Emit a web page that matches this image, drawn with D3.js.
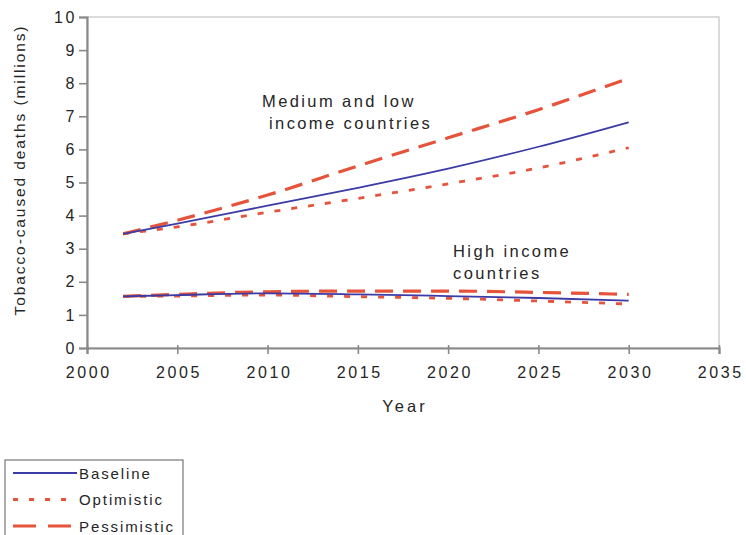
<!DOCTYPE html>
<html>
<head>
<meta charset="utf-8">
<script src="https://cdn.jsdelivr.net/npm/d3@7"></script>
<style>
  html, body { margin: 0; padding: 0; background: #fff; }
  svg { display: block; font-family: "Liberation Sans", Arial, Helvetica, sans-serif; }
</style>
</head>
<body>
<svg id="chart" width="746" height="535"></svg>
<script>
// Projected tobacco-caused deaths, millions
const years = [2002, 2005, 2010, 2015, 2020, 2025, 2030];

const lowMidBaseline    = [3.45, 3.76, 4.30, 4.84, 5.42, 6.08, 6.82];
const lowMidOptimistic  = [3.45, 3.66, 4.10, 4.52, 4.96, 5.44, 6.05];
const lowMidPessimistic = [3.45, 3.86, 4.62, 5.50, 6.35, 7.20, 8.15];

const highBaseline    = [1.56, 1.60, 1.65, 1.62, 1.57, 1.51, 1.43];
const highOptimistic  = [1.56, 1.57, 1.60, 1.55, 1.50, 1.42, 1.33];
const highPessimistic = [1.56, 1.62, 1.70, 1.72, 1.72, 1.68, 1.62];

const xTicks = [2000, 2005, 2010, 2015, 2020, 2025, 2030, 2035];
const yTicks = [0, 1, 2, 3, 4, 5, 6, 7, 8, 9, 10];

const scenarios = ["Baseline", "Optimistic", "Pessimistic"];

const blue = "#3b3ba6";
const red = "#e5533b";
const ink = "#262626";
const styles = {
  Baseline:    { color: blue, width: 1.8, dash: null },
  Optimistic:  { color: red,  width: 2.8, dash: "6,11" },
  Pessimistic: { color: red,  width: 3.2, dash: "18,10" }
};

const svg = d3.select("#chart");
const plotLeft = 87, plotRight = 719, plotTop = 17, plotBottom = 348;

const x = d3.scaleLinear().domain([2000, 2035]).range([plotLeft, plotRight]);
const y = d3.scaleLinear().domain([0, 10]).range([plotBottom, plotTop]);

// plot frame
svg.append("rect")
  .attr("x", plotLeft).attr("y", plotTop)
  .attr("width", plotRight - plotLeft).attr("height", plotBottom - plotTop)
  .attr("fill", "none").attr("stroke", "#c4c4c4").attr("stroke-width", 1.2);

// axes
const yAxis = svg.append("g")
  .attr("transform", `translate(${plotLeft},0)`)
  .call(d3.axisLeft(y).tickValues(yTicks).tickSize(8).tickPadding(2).tickFormat(d3.format("d")));
const xAxis = svg.append("g")
  .attr("transform", `translate(0,${plotBottom})`)
  .call(d3.axisBottom(x).tickValues(xTicks).tickSize(6).tickPadding(13).tickFormat(d3.format("d")));

[yAxis, xAxis].forEach(g => {
  g.select(".domain").attr("stroke", "#8a8a8a").attr("stroke-width", 2.2);
  g.selectAll(".tick line").attr("stroke", "#8a8a8a").attr("stroke-width", 1.6);
  g.selectAll(".tick text").attr("fill", ink).attr("font-size", 16)
    .attr("letter-spacing", "2.6px")
    .attr("font-family", "Liberation Sans, Arial, sans-serif");
});
xAxis.selectAll(".tick line").attr("y1", -3);
xAxis.selectAll(".tick text").attr("dx", "1.3px");

// axis titles
svg.append("text")
  .attr("transform", "translate(25,170) rotate(-90)")
  .attr("text-anchor", "middle")
  .attr("font-size", 15.5).attr("fill", ink)
  .attr("letter-spacing", "1.9px")
  .text("Tobacco-caused deaths (millions)");
svg.append("text")
  .attr("x", 405).attr("y", 412)
  .attr("text-anchor", "middle")
  .attr("font-size", 16.5).attr("fill", ink)
  .attr("letter-spacing", "3px")
  .text("Year");

// series
const line = d3.line().x(d => x(d[0])).y(d => y(d[1])).curve(d3.curveMonotoneX);
const series = [
  { key: "Baseline",    values: lowMidBaseline },
  { key: "Optimistic",  values: lowMidOptimistic },
  { key: "Pessimistic", values: lowMidPessimistic },
  { key: "Baseline",    values: highBaseline },
  { key: "Optimistic",  values: highOptimistic },
  { key: "Pessimistic", values: highPessimistic }
];
// reds first, blue on top
const order = ["Optimistic", "Pessimistic", "Baseline"];
series.slice().sort((a, b) => order.indexOf(a.key) - order.indexOf(b.key)).forEach(s => {
  const st = styles[s.key];
  svg.append("path")
    .datum(years.map((yr, i) => [yr, s.values[i]]))
    .attr("d", line)
    .attr("fill", "none")
    .attr("stroke", st.color)
    .attr("stroke-width", st.width)
    .attr("stroke-dasharray", st.dash);
});

// group labels
const annotations = [
  { lines: ["Medium and low", " income countries"], x: 262, y: 107 },
  { lines: ["High income", "countries"], x: 453, y: 257 }
];
annotations.forEach(a => {
  const t = svg.append("text").attr("font-size", 16.5).attr("fill", ink)
    .attr("letter-spacing", "2.4px");
  a.lines.forEach((l, i) => {
    t.append("tspan").attr("x", a.x).attr("y", a.y + i * 22).attr("xml:space", "preserve").text(l);
  });
});

// legend
const lg = svg.append("g");
lg.append("rect")
  .attr("x", 5).attr("y", 460).attr("width", 178).attr("height", 90)
  .attr("fill", "#fff").attr("stroke", "#777").attr("stroke-width", 1.2);
scenarios.forEach((k, i) => {
  const st = styles[k];
  const ly = 473 + i * 26.5;
  lg.append("line")
    .attr("x1", 13).attr("x2", 77).attr("y1", ly).attr("y2", ly)
    .attr("stroke", st.color).attr("stroke-width", st.width)
    .attr("stroke-dasharray", k === "Pessimistic" ? "23,12" : (k === "Optimistic" ? "5,11" : null));
  lg.append("text")
    .attr("x", 79).attr("y", ly + 5.5)
    .attr("font-size", 15).attr("fill", ink)
    .attr("letter-spacing", "1.9px")
    .text(k);
});
</script>
</body>
</html>
